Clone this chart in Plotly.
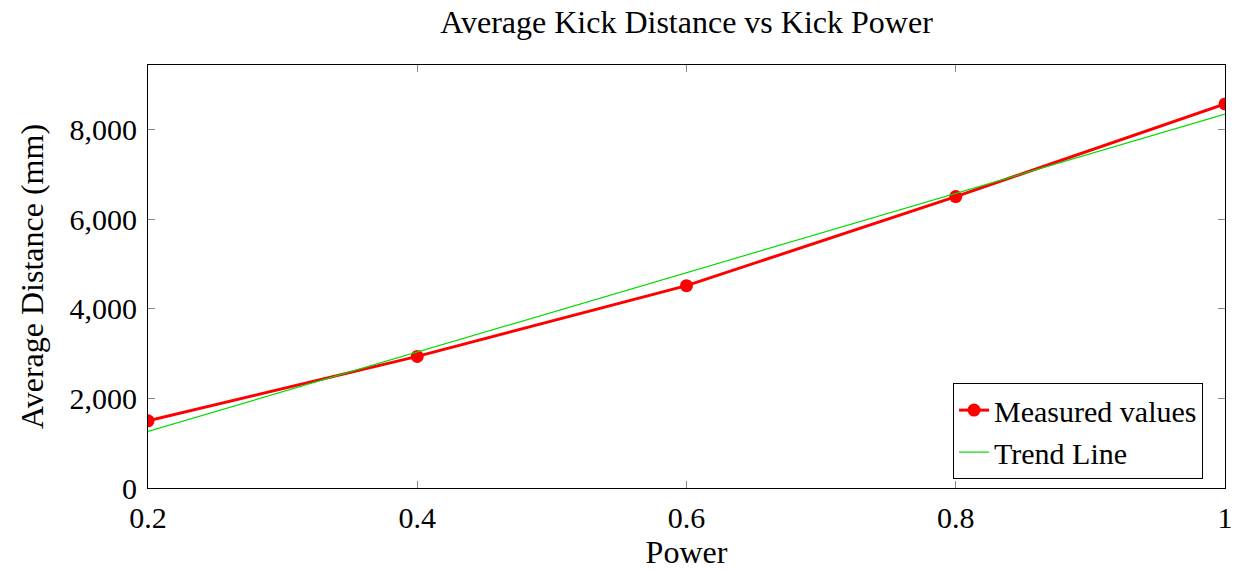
import plotly.graph_objects as go

power = [0.2, 0.4, 0.6, 0.8, 1.0]
distance = [1500, 2940, 4520, 6510, 8580]
trend_x = [0.2, 1.0]
trend_y = [1265, 8355]
x_ticks = [0.2, 0.4, 0.6, 0.8, 1.0]
x_tick_labels = ["0.2", "0.4", "0.6", "0.8", "1"]
y_ticks = [0, 2000, 4000, 6000, 8000]
y_tick_labels = ["0", "2,000", "4,000", "6,000", "8,000"]

FONT = "Liberation Serif"

fig = go.Figure()
fig.add_trace(go.Scatter(
    x=power, y=distance, mode="lines+markers", name="Measured values",
    line=dict(color="#ff0000", width=3),
    marker=dict(color="#ff0000", size=13),
))
fig.add_trace(go.Scatter(
    x=trend_x, y=trend_y, mode="lines", name="Trend Line",
    line=dict(color="#00dd00", width=1.2),
))

axis_common = dict(
    showline=True, linecolor="black", linewidth=1.2, mirror="ticks",
    ticks="inside", ticklen=7, tickcolor="#888888", tickwidth=1,
    showgrid=False, zeroline=False, automargin=False,
    tickfont=dict(family=FONT, size=30, color="black"),
)

fig.update_layout(
    width=1236, height=572,
    margin=dict(l=148, r=11, t=65, b=84),
    plot_bgcolor="white", paper_bgcolor="white",
    title=dict(text="Average Kick Distance vs Kick Power", x=0.5, xref="paper",
               y=1 - 22 / 572, yanchor="middle",
               font=dict(family=FONT, size=32, color="black")),
    xaxis=dict(range=[0.2, 1.0], tickvals=x_ticks, ticktext=x_tick_labels,
               ticklabelstandoff=3,
               title=dict(text="Power", font=dict(family=FONT, size=32, color="black"), standoff=5),
               **axis_common),
    yaxis=dict(range=[0, 9450], tickvals=y_ticks, ticktext=y_tick_labels,
               ticklabelstandoff=4,
               title=dict(text="Average Distance (mm)", font=dict(family=FONT, size=32, color="black"), standoff=16),
               **axis_common),
    legend=dict(x=0.9796, y=0.021, xanchor="right", yanchor="bottom",
                bordercolor="black", borderwidth=1, bgcolor="white",
                font=dict(family=FONT, size=30, color="black")),
    showlegend=True,
)

fig.write_html("out.html")
